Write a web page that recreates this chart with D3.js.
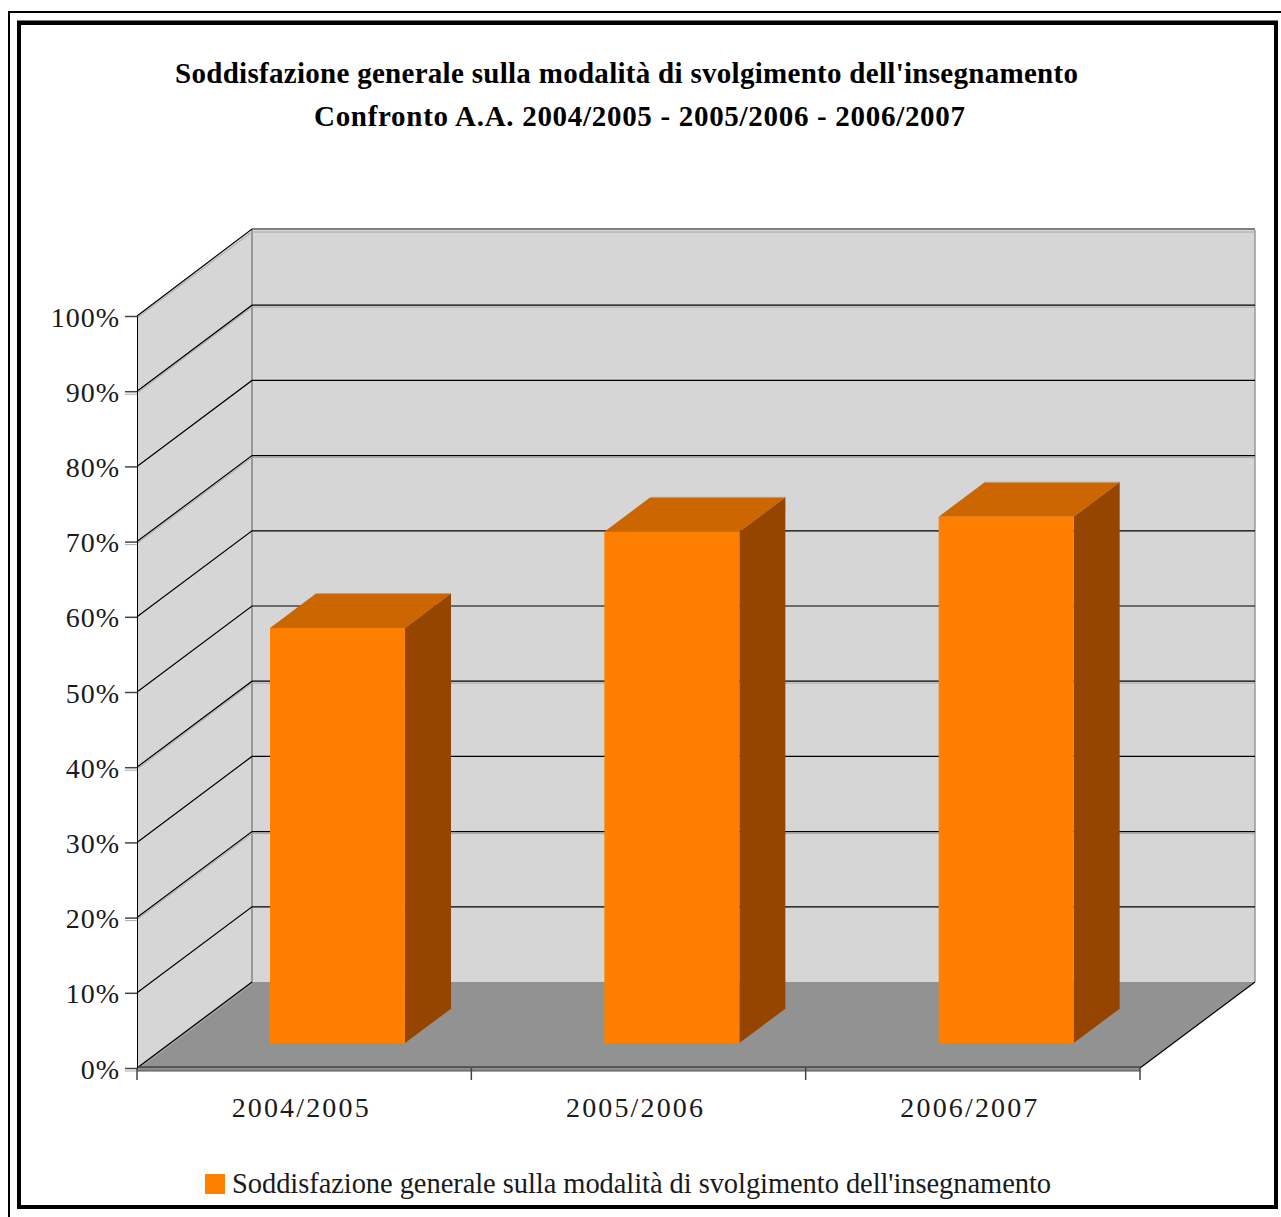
<!DOCTYPE html>
<html lang="it">
<head>
<meta charset="UTF-8">
<title>Soddisfazione generale</title>
<script src="https://cdnjs.cloudflare.com/ajax/libs/d3/7.8.5/d3.min.js"></script>
<style>
    html, body { margin: 0; padding: 0; background: #fff; overflow: hidden; }
    svg { display: block; }
    text { font-family: "Liberation Serif", serif; fill: #1a1a1a; }
    .title { fill: #000; }
</style>
</head>
<body>
<div id="chart"></div>
<script>
    const categories = ["2004/2005", "2005/2006", "2006/2007"];
    const values = [55.2, 68, 70];
    const yTicks = [0, 10, 20, 30, 40, 50, 60, 70, 80, 90, 100];
    const titleLines = [
        "Soddisfazione generale sulla modalità di svolgimento dell'insegnamento",
        "Confronto A.A. 2004/2005 - 2005/2006 - 2006/2007"
    ];
    const legendLabel = "Soddisfazione generale sulla modalità di svolgimento dell'insegnamento";

    const width = 1281, height = 1217;

    const svg = d3.select("#chart").append("svg")
        .attr("width", width)
        .attr("height", height);

    // outer frame runs off the picture on the right and at the bottom
    svg.append("rect").attr("x", 9).attr("y", 12).attr("width", 1300).attr("height", 1240)
        .attr("fill", "none").attr("stroke", "#000").attr("stroke-width", 2);
    svg.append("line").attr("x1", 17).attr("x2", 1278).attr("y1", 20.5).attr("y2", 20.5)
        .attr("stroke", "#777");
    svg.append("rect").attr("x", 19).attr("y", 23).attr("width", 1257).attr("height", 1184)
        .attr("fill", "#fff").attr("stroke", "#000").attr("stroke-width", 4);

    // front plane scales, depth is a fixed shift towards the back wall
    const x = d3.scaleBand().domain(categories).range([137, 1140]);
    const y = d3.scaleLinear().domain([0, 100]).range([1068, 316]);
    const depthX = 115, depthY = -86;
    const barWidth = 135;
    const barFront = 0.29, barBack = 0.69;

    const pts = (...p) => p.map(d => d.join(",")).join(" ");
    const shift = (px, py, t) => [px + depthX * t, py + depthY * t];

    const [x0, x1] = x.range();

    // left wall, back wall, floor
    svg.append("polygon")
        .attr("points", pts([x0, y(0)], [x0, y(100)], shift(x0, y(100), 1), shift(x0, y(0), 1)))
        .attr("fill", "#d6d6d6");
    svg.append("polygon")
        .attr("points", pts(shift(x0, y(0), 1), shift(x0, y(100), 1), shift(x1, y(100), 1), shift(x1, y(0), 1)))
        .attr("fill", "#d6d6d6");
    svg.append("polygon")
        .attr("points", pts([x0, y(0)], shift(x0, y(0), 1), shift(x1, y(0), 1), [x1, y(0)]))
        .attr("fill", "#929292");

    // grey corners of the walls
    svg.append("line")
        .attr("x1", x0 + depthX).attr("x2", x0 + depthX)
        .attr("y1", y(100) + depthY).attr("y2", y(0) + depthY)
        .attr("stroke", "#999").attr("stroke-width", 2);
    svg.append("line")
        .attr("x1", x1 + depthX).attr("x2", x1 + depthX)
        .attr("y1", y(100) + depthY).attr("y2", y(0) + depthY)
        .attr("stroke", "#999").attr("stroke-width", 1.5);

    // some grid lines come with a pale line just under them
    const doubled = [0, 20, 40, 70, 90, 100];

    const grid = svg.append("g").attr("fill", "none");
    yTicks.forEach(t => {
        const end = t === 0 ? [x0 + depthX, y(t) + depthY] : [x1 + depthX, y(t) + depthY];
        if (doubled.includes(t)) {
            grid.append("polyline")
                .attr("points", pts([x0, y(t) + 2], [x0 + depthX, y(t) + depthY + 2], [end[0], end[1] + 2]))
                .attr("stroke", "#a8a8a8");
        }
        const lift = t === 100 ? -1 : 0;
        grid.append("polyline")
            .attr("points", pts([x0, y(t)], [x0 + depthX, y(t) + depthY + lift], [end[0], end[1] + lift]))
            .attr("stroke", "#000")
            .attr("stroke-width", 1.2);
    });

    // floor edge on the right
    svg.append("line")
        .attr("x1", x1).attr("y1", y(0))
        .attr("x2", x1 + depthX).attr("y2", y(0) + depthY)
        .attr("stroke", "#000")
        .attr("stroke-width", 1.2);

    // front lip of the floor
    svg.append("rect")
        .attr("x", x0).attr("y", y(0) - 1)
        .attr("width", x1 - x0).attr("height", 4)
        .attr("fill", "#8c8c8c");
    svg.append("line").attr("x1", x0).attr("x2", x1).attr("y1", y(0) - 1).attr("y2", y(0) - 1)
        .attr("stroke", "#444").attr("stroke-width", 1.5);
    svg.append("line").attr("x1", x0).attr("x2", x1).attr("y1", y(0) + 3).attr("y2", y(0) + 3)
        .attr("stroke", "#555");

    // bars
    const bars = svg.append("g").selectAll("g")
        .data(categories.map((c, i) => ({c, v: values[i]})))
        .enter().append("g");

    const left = d => x(d.c) + (x.bandwidth() - barWidth) / 2 + depthX * barFront;
    const base = depthY * barFront;
    const ox = depthX * (barBack - barFront), oy = depthY * (barBack - barFront);

    bars.append("polygon")
        .attr("points", d => pts(
            [left(d), y(d.v) + base], [left(d) + ox, y(d.v) + base + oy],
            [left(d) + barWidth + ox, y(d.v) + base + oy], [left(d) + barWidth, y(d.v) + base]))
        .attr("fill", "#cc6600");
    bars.append("line")
        .attr("x1", d => left(d) + ox).attr("x2", d => left(d) + barWidth + ox)
        .attr("y1", d => y(d.v) + base + oy).attr("y2", d => y(d.v) + base + oy)
        .attr("stroke", "#cf9a68");
    bars.append("polygon")
        .attr("points", d => pts(
            [left(d) + barWidth, y(d.v) + base], [left(d) + barWidth + ox, y(d.v) + base + oy],
            [left(d) + barWidth + ox, y(0) + base + oy], [left(d) + barWidth, y(0) + base]))
        .attr("fill", "#964500");
    bars.append("rect")
        .attr("x", left)
        .attr("y", d => y(d.v) + base)
        .attr("width", barWidth)
        .attr("height", d => y(0) - y(d.v))
        .attr("fill", "#ff7f00");

    // axes
    const yAxis = svg.append("g")
        .attr("transform", `translate(${x0},0)`)
        .call(d3.axisLeft(y).tickValues(yTicks).tickFormat(d => d + "%").tickSize(12).tickPadding(5));
    yAxis.selectAll("text")
        .attr("font-size", 28)
        .attr("letter-spacing", 1)
        .attr("dy", "0.36em")
        .attr("font-family", "Liberation Serif");
    yAxis.selectAll("line").attr("stroke", "#444").attr("stroke-width", 1.5);
    yAxis.selectAll(".tick").filter(d => doubled.includes(d) && d !== 100).append("line")
        .attr("x1", -12).attr("x2", 0)
        .attr("y1", 2.5).attr("y2", 2.5)
        .attr("stroke", "#aaa");
    yAxis.select(".domain").attr("stroke", "#000");

    const xAxis = svg.append("g")
        .attr("transform", `translate(0,${y(0)})`)
        .call(d3.axisBottom(x).tickValues([]).tickSize(0));
    xAxis.select(".domain").attr("stroke", "none");
    xAxis.selectAll(".cat-tick").data(d3.range(categories.length + 1)).enter().append("line")
        .attr("x1", i => x0 + i * x.step()).attr("x2", i => x0 + i * x.step())
        .attr("y1", 0).attr("y2", 12)
        .attr("stroke", "#444").attr("stroke-width", 1.5);
    xAxis.selectAll(".cat-label").data(categories).enter().append("text")
        .attr("x", d => x(d) + x.bandwidth() / 2 - 4)
        .attr("y", 49)
        .attr("text-anchor", "middle")
        .attr("font-size", 28)
        .attr("textLength", 137)
        .attr("lengthAdjust", "spacing")
        .text(d => d);

    // title
    svg.selectAll(".title").data(titleLines).enter().append("text")
        .attr("class", "title")
        .attr("x", (d, i) => i === 0 ? 175 : 314)
        .attr("y", (d, i) => 83 + i * 43)
        .attr("font-size", 29)
        .attr("font-weight", 700)
        .attr("textLength", (d, i) => i === 0 ? 903 : 651)
        .attr("lengthAdjust", "spacing")
        .text(d => d);

    // legend
    svg.append("rect").attr("x", 205).attr("y", 1174).attr("width", 20).attr("height", 20).attr("fill", "#ff7f00");
    svg.append("text")
        .attr("x", 232).attr("y", 1193)
        .attr("font-size", 28.5)
        .attr("textLength", 819)
        .attr("lengthAdjust", "spacing")
        .text(legendLabel);
</script>
</body>
</html>
